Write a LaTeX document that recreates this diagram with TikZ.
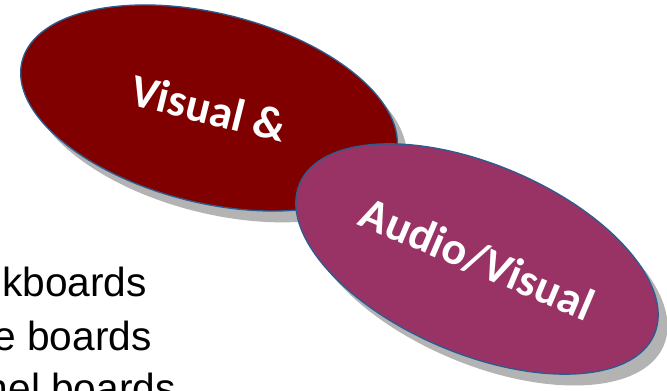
\documentclass[tikz,border=0pt]{standalone}
\usepackage{fontspec}
\setmainfont{Liberation Sans}
\newfontfamily\carlito{Carlito}
\usetikzlibrary{shapes.geometric,shadows}
\definecolor{darkred}{HTML}{800000}
\definecolor{plum}{HTML}{993366}
\definecolor{rim}{HTML}{2B5C8F}
\definecolor{shade}{HTML}{B3B3B3}
\tikzset{
  blob/.style={ellipse, draw=rim, line width=1pt, inner sep=0pt,
    minimum width=289pt, minimum height=142pt, text=white,
    font=\carlito\bfseries\fontsize{34.5}{38}\selectfont,
    drop shadow={shadow xshift=7pt, shadow yshift=-8.5pt, fill=shade, opacity=1}},
  item/.style={anchor=base east, inner sep=0pt, font=\fontsize{30.5}{36}\selectfont}
}
\begin{document}
\begin{tikzpicture}[x=0.75pt,y=-0.75pt]
  \useasboundingbox (0,0) rectangle (667,391);
  \clip (0,0) rectangle (667,391);
  \node[blob, fill=darkred, rotate=-14] (visual) at (209,108) {Visual \&};
  \node[blob, fill=plum, rotate=-23] (audio) at (477,259) {Audio/Visual};
  \node[item] (chalk) at (147,297) {kboards};
  \node[item] (white) at (152,350) {e boards};
  \node[item] (flannel) at (176,402) {nel boards};
\end{tikzpicture}
\end{document}
